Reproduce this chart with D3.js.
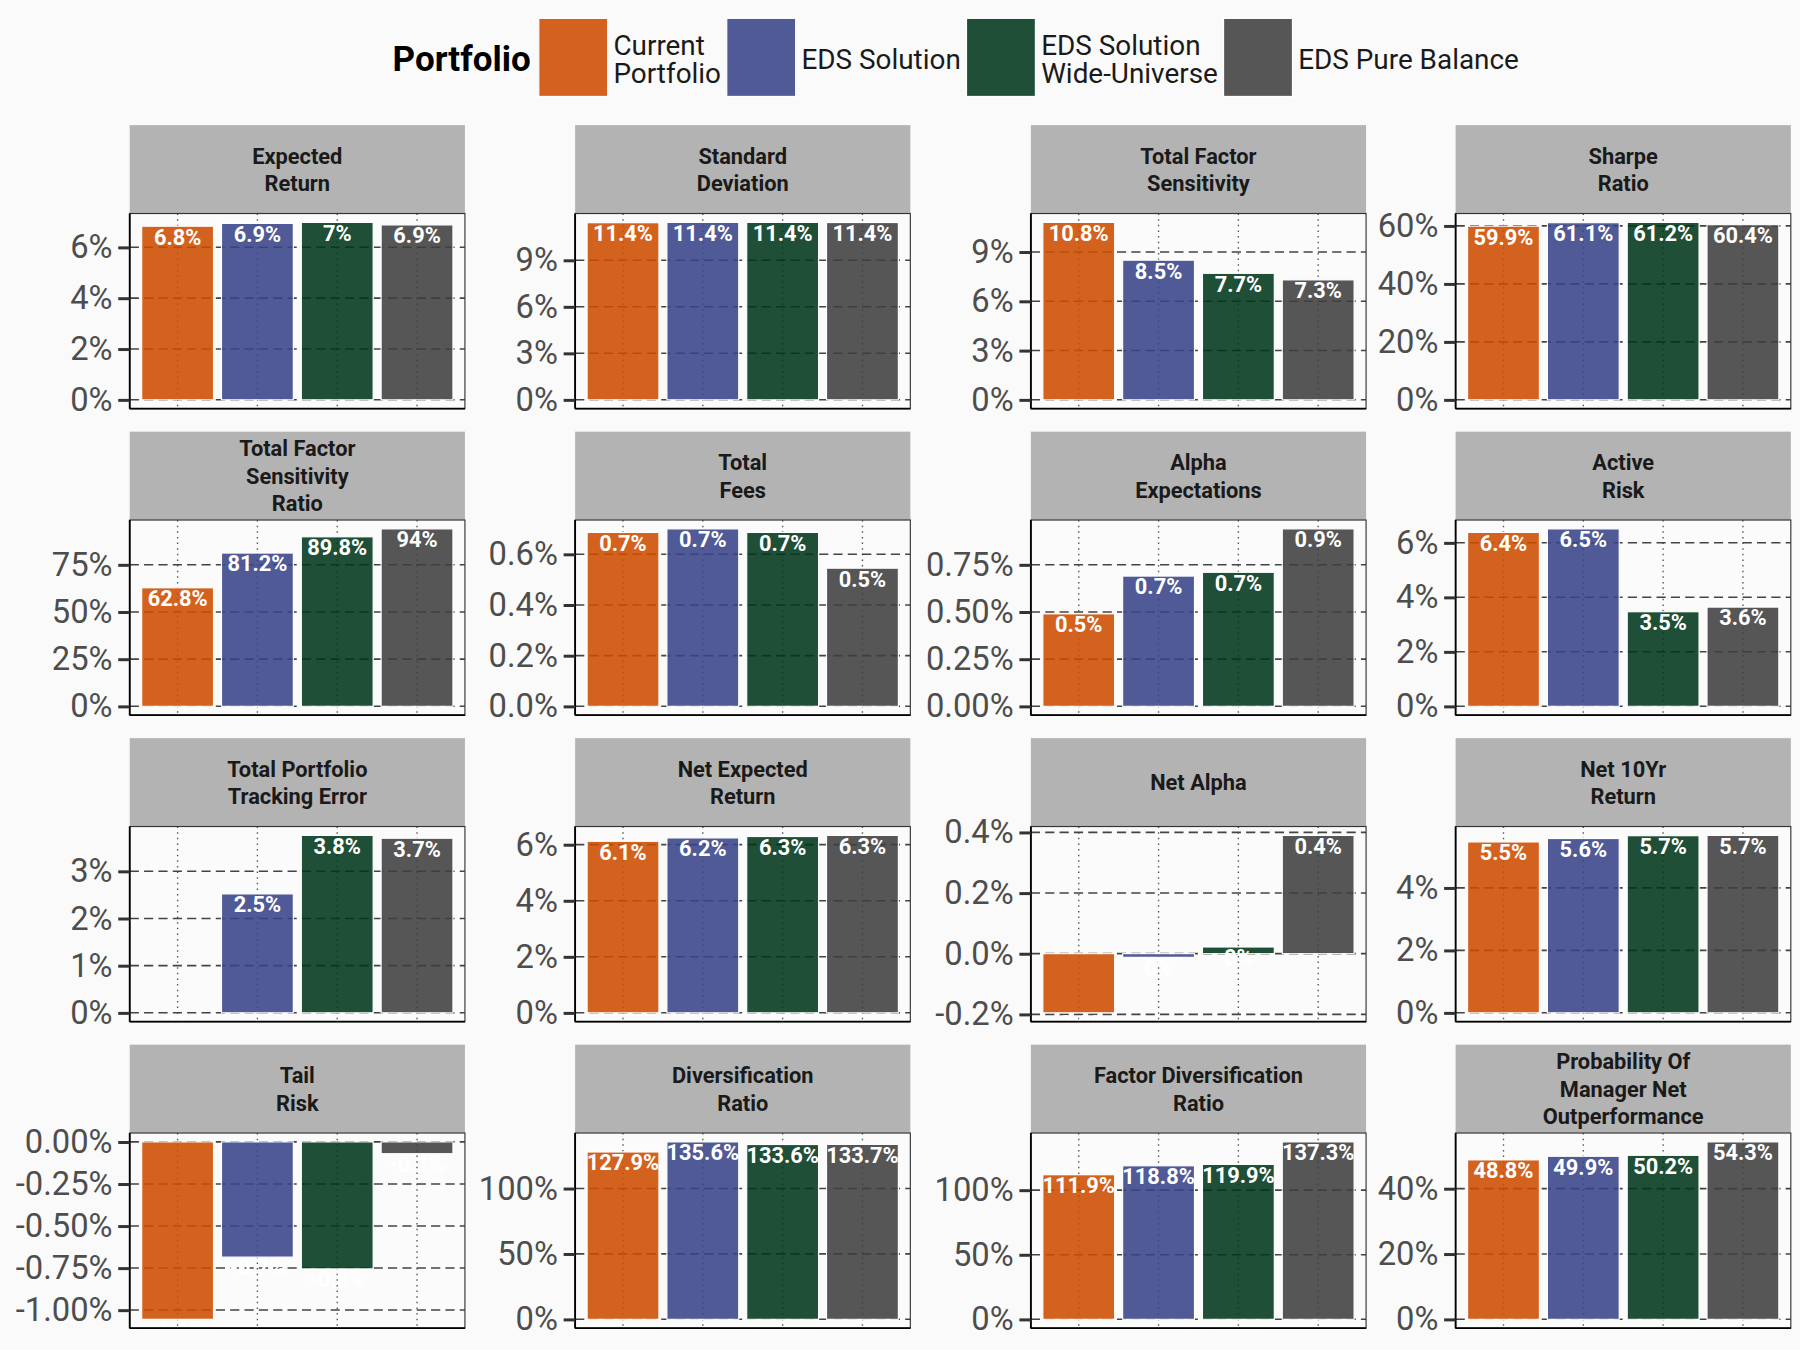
<!DOCTYPE html>
<html><head><meta charset="utf-8">
<script src="https://cdn.jsdelivr.net/npm/d3@7"></script>
<style>body{margin:0;background:#fafafa;} svg{display:block;font-family:Roboto,'Noto Sans',sans-serif;}</style>
</head><body><div id="chart"></div>
<script>
// ---------- data ----------
const metrics = [
  "Expected\nReturn", "Standard\nDeviation", "Total Factor\nSensitivity", "Sharpe\nRatio",
  "Total Factor\nSensitivity\nRatio", "Total\nFees", "Alpha\nExpectations", "Active\nRisk",
  "Total Portfolio\nTracking Error", "Net Expected\nReturn", "Net Alpha", "Net 10Yr\nReturn",
  "Tail\nRisk", "Diversification\nRatio", "Factor Diversification\nRatio", "Probability Of\nManager Net\nOutperformance"
];
const portfolios = ["Current Portfolio", "EDS Solution", "EDS Solution Wide-Universe", "EDS Pure Balance"];
const legendLabels = [["Current", "Portfolio"], ["EDS Solution"], ["EDS Solution", "Wide-Universe"], ["EDS Pure Balance"]];
const legendTitle = "Portfolio";

const currentPortfolio = [6.83, 11.42, 10.8, 59.9, 62.8, 0.686, 0.49, 6.38, 0, 6.12, -0.195, 5.47, -1.055, 127.9, 111.9, 48.8];
const edsSolution      = [6.94, 11.44, 8.5, 61.1, 81.2, 0.70, 0.69, 6.51, 2.52, 6.24, -0.012, 5.58, -0.685, 135.6, 118.8, 49.9];
const edsWideUniverse  = [6.98, 11.44, 7.7, 61.2, 89.8, 0.686, 0.71, 3.47, 3.76, 6.29, 0.022, 5.67, -0.755, 133.6, 119.9, 50.2];
const edsPureBalance   = [6.88, 11.43, 7.3, 60.4, 94.0, 0.545, 0.94, 3.64, 3.70, 6.33, 0.39, 5.68, -0.07, 133.7, 137.3, 54.3];

const yTicks = [
  [0, 2, 4, 6], [0, 3, 6, 9], [0, 3, 6, 9], [0, 20, 40, 60],
  [0, 25, 50, 75], [0, 0.2, 0.4, 0.6], [0, 0.25, 0.5, 0.75], [0, 2, 4, 6],
  [0, 1, 2, 3], [0, 2, 4, 6], [-0.2, 0, 0.2, 0.4], [0, 2, 4],
  [-1, -0.75, -0.5, -0.25, 0], [0, 50, 100], [0, 50, 100], [0, 20, 40]
];
const tickDecimals = [0,0,0,0, 0,1,2,0, 0,0,1,0, 2,0,0,0];

const colors = ["#ce4c00", "#384388", "#00371b", "#3f3f3f"];

// ---------- layout ----------
const series = [currentPortfolio, edsSolution, edsWideUniverse, edsPureBalance];
const W = 1568, H = 1176;
const svg = d3.select("#chart").append("svg")
  .attr("width", 1800).attr("height", 1350).attr("viewBox", `0 0 ${W} ${H}`);
svg.append("rect").attr("width", W).attr("height", H).attr("fill", "#fafafa");

const colLeft = [113, 501, 898, 1268], rowTop = [109, 376, 643, 910];
const panelW = 292, stripH = 77, plotH = 170;
const barOpacity = 0.88;

const x = d3.scaleBand().domain(portfolios).range([0, panelW]).paddingInner(0.1).paddingOuter(0.15);
const fmtLabel = v => String(+v.toFixed(1)) + "%";

metrics.forEach((m, i) => {
  const col = i % 4, row = Math.floor(i / 4);
  const g = svg.append("g").attr("transform", `translate(${colLeft[col]},${rowTop[row]})`);
  // strip
  g.append("rect").attr("width", panelW).attr("height", stripH).attr("fill", "#b3b3b3");
  const lines = m.split("\n");
  const t = g.append("text").attr("text-anchor", "middle").attr("font-weight", 700)
    .attr("font-size", 19).attr("fill", "#1a1a1a");
  lines.forEach((l, k) => t.append("tspan").attr("x", panelW / 2)
    .attr("y", stripH / 2 + (k - (lines.length - 1) / 2) * 24 + 7).text(l));

  const p = g.append("g").attr("transform", `translate(0,${stripH})`);
  const vals = series.map(s => s[i]);
  const lo = Math.min(0, d3.min(vals)), hi = Math.max(0, d3.max(vals));
  const pad = (hi - lo) * 0.05;
  const y = d3.scaleLinear().domain([lo - pad, hi + pad]).range([plotH, 0]);

  const cid = "clip" + i;
  p.append("clipPath").attr("id", cid).append("rect").attr("width", panelW).attr("height", plotH);
  p.append("rect").attr("width", panelW).attr("height", plotH).attr("fill", "#fbfbfb");
  const inner = p.append("g").attr("clip-path", `url(#${cid})`);

  // vertical dotted grid
  inner.selectAll("line.vg").data(portfolios).join("line")
    .attr("x1", d => x(d) + x.bandwidth() / 2).attr("x2", d => x(d) + x.bandwidth() / 2)
    .attr("y1", 0).attr("y2", plotH)
    .attr("stroke", "#555").attr("stroke-width", 1.2).attr("stroke-dasharray", "1.3,3.6");
  // horizontal dashed grid
  inner.selectAll("line.hg").data(yTicks[i]).join("line")
    .attr("x1", 0).attr("x2", panelW).attr("y1", d => y(d)).attr("y2", d => y(d))
    .attr("stroke", "#444").attr("stroke-width", 1.4).attr("stroke-dasharray", "8,4.5");

  // bars
  inner.selectAll("rect.bar").data(vals).join("rect")
    .attr("x", (d, k) => x(portfolios[k])).attr("width", x.bandwidth())
    .attr("y", d => y(Math.max(0, d))).attr("height", d => Math.abs(y(d) - y(0)))
    .attr("fill", (d, k) => colors[k]).attr("fill-opacity", barOpacity)
    .attr("stroke", "#ffffff").attr("stroke-width", 1);

  // labels
  inner.selectAll("text.lab").data(vals).join("text")
    .attr("x", (d, k) => x(portfolios[k]) + x.bandwidth() / 2)
    .attr("y", d => y(d) + 16)
    .attr("text-anchor", "middle").attr("font-weight", 700).attr("font-size", 19)
    .attr("fill", "#ffffff").text(d => fmtLabel(d));

  // border
  p.append("rect").attr("width", panelW).attr("height", plotH)
    .attr("fill", "none").attr("stroke", "#333").attr("stroke-width", 1);
  p.append("line").attr("x1", 0).attr("x2", 0).attr("y1", 0).attr("y2", plotH)
    .attr("stroke", "#000").attr("stroke-width", 1.6);
  p.append("line").attr("x1", 0).attr("x2", panelW).attr("y1", plotH).attr("y2", plotH)
    .attr("stroke", "#000").attr("stroke-width", 1.6);

  // y axis
  const ax = p.append("g").call(d3.axisLeft(y).tickValues(yTicks[i])
    .tickFormat(d => d.toFixed(tickDecimals[i]) + "%").tickSize(10).tickPadding(5));
  ax.select(".domain").remove();
  ax.selectAll(".tick line").attr("stroke", "#333").attr("stroke-width", 2.6);
  ax.selectAll(".tick text").attr("font-size", 28.5).attr("fill", "#4d4d4d")
    .attr("font-family", "Roboto,'Noto Sans',sans-serif");
});

// ---------- legend ----------
const lg = svg.append("g");
const title = lg.append("text").attr("x", 342).attr("y", 62).attr("font-weight", 700)
  .attr("font-size", 30.5).attr("fill", "#000").text(legendTitle);
let cx = 342 + title.node().getComputedTextLength() + 7;
portfolios.forEach((pf, k) => {
  lg.append("rect").attr("x", cx).attr("y", 16).attr("width", 60).attr("height", 68)
    .attr("fill", colors[k]).attr("fill-opacity", barOpacity)
    .attr("stroke", "#ffffff").attr("stroke-width", 1);
  cx += 65;
  const ls = legendLabels[k];
  const tt = lg.append("text").attr("font-size", 24.3).attr("fill", "#1a1a1a");
  ls.forEach((l, j) => tt.append("tspan").attr("x", cx)
    .attr("y", 51 + (j - (ls.length - 1) / 2) * 24 + 9).text(l));
  cx += tt.node().getBBox().width + 5;
});
</script>
</body></html>
